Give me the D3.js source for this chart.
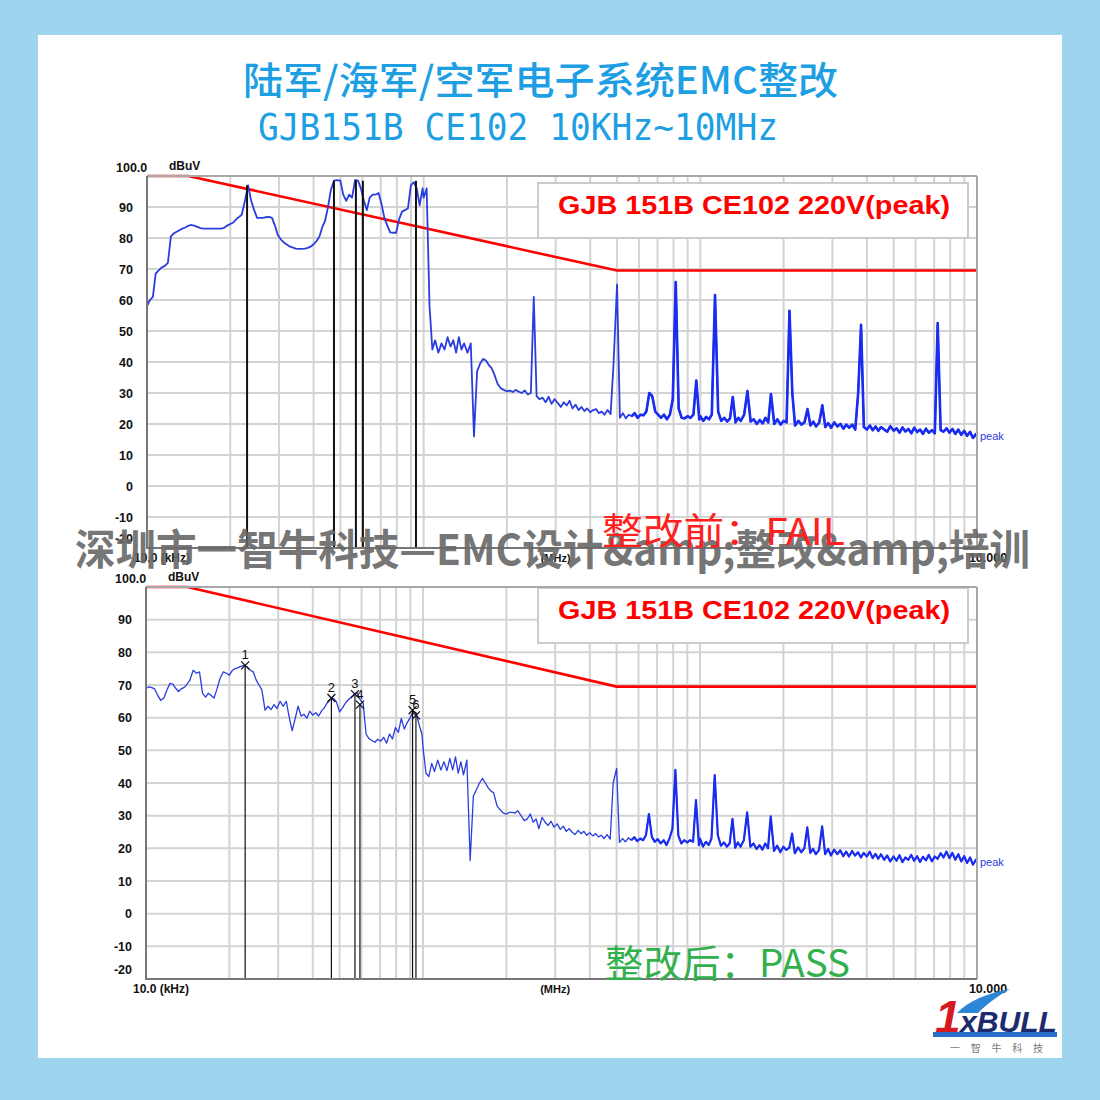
<!DOCTYPE html>
<html><head><meta charset="utf-8">
<script src="https://cdn.jsdelivr.net/npm/d3@7"></script>
<style>body{margin:0;background:#fff}svg{display:block}</style>
</head><body><svg id="c" width="1100" height="1100"></svg>
<script>
// ---------------- DATA ----------------
const freqKHz = [
 10,10.25,10.5,10.75,11,11.3,11.6,11.9,12.2,12.5, 12.8,13.1,13.4,13.7,14,14.4,14.8,15.2,15.6,16,
 16.4,16.8,17.2,17.6,18,18.5,19,19.5,20,20.5, 21,21.5,22,22.6,23.2,23.8,24.4,25,25.6,26.2,
 26.9,27.6,28.3,29,29.7,30.5,31.3,32.1,32.9,33.7, 34.5,35.4,36.3,37.2,38.1,39,40,41,42,43,
 44,45,46.2,47.4,48.6,50,51.2,52.5,53.8,55.1, 56.5,57.9,59.3,60.8,62.3,63.8,65.4,67,68.7,70.4,
 72.1,73.9,75.7,77.6,79.5,81.5,83.5,85.6,87.7,89.9, 92.1,94.4,96.7,99.1,
 100,102.5,105,107.5,110,113,116,119,122,125, 128,131,134,137,140,144,148,152,156,160,
 164,168,172,176,180,185,190,195,200,205, 210,215,220,226,232,238,244,250,256,262,
 269,276,283,290,297,305,313,321,329,337, 345,354,363,372,381,390,400,410,420,430,
 440,450,462,474,486,500,512,525,538,551, 565,579,593,608,623,638,654,670,687,704,
 721,739,757,776,795,815,835,856,877,899, 921,944,967,991,
 1000,1025,1050,1075,1100,1130,1160,1190,1220,1250, 1280,1310,1340,1370,1400,1440,1480,1520,1560,1600,
 1640,1680,1720,1760,1800,1850,1900,1950,2000,2050, 2100,2150,2200,2260,2320,2380,2440,2500,2560,2620,
 2690,2760,2830,2900,2970,3050,3130,3210,3290,3370, 3450,3540,3630,3720,3810,3900,4000,4100,4200,4300,
 4400,4500,4620,4740,4860,5000,5120,5250,5380,5510, 5650,5790,5930,6080,6230,6380,6540,6700,6870,7040,
 7210,7390,7570,7760,7950,8150,8350,8560,8770,8990, 9210,9440,9670,9910,
 10000
];
// before rectification (FAIL), dBuV
const levelBefore = [
 58,60,61,68.5,69.5,70.5,71,72,80.5,81.5, 82,82.5,83,83.3,83.8,84.2,84,83.6,83.2,83,
 83,83,83,83,83,83,83.3,84,84.5,85, 86,86.8,87.5,92,97,92,89,86.5,86.5,86.5,
 86.7,86.8,86.5,84,81,79.5,78.5,77.8,77.2,76.9, 76.6,76.5,76.5,76.6,76.8,77.2,78,79,80.5,83.5,
 85.5,89.5,95.5,98.5,98.7,98.5,94,92,94,93, 98.7,98.5,96,92,89,93,94,94,94.5,91,
 86.5,84,81.8,81.7,81.7,86,88.5,89,89.5,97, 98,96,90.5,96,
 93,96,58,44,47,43,46,44,48,45, 47,43,48,44,46,43,46,16,37,39.5,
 41,40.5,39,38,36,33,31.5,31,30.5,30.8, 30.3,31,30.5,30,30.8,29.5,30,61,29,28,
 28.5,27,28.8,26.5,28,26.8,25.5,27,26,27.5, 25,26.2,24.5,25.5,24.2,25,23.8,24.5,24.8,23.5,
 24,23,24.5,23.2,40,65,22,23.5,21.8,23, 22.5,23.5,22,23,22.8,24,30,29,24,23,
 22,23,21.5,23,28,65.8,25,22,21.8,22.5, 22,23,34,21.5,
 22.5,21,22.3,21.5,23,61.6,24,21,22,20.8, 21.8,28.7,20.5,22,21,23,30.6,20.8,21.5,20,
 21.3,20.2,22,20.5,29.7,20,21.5,19.8,21,20.5, 56.5,30,19.5,21,19.8,20.6,24.8,19.5,20.8,19.2,
 20.5,26,19,20.3,18.8,20.5,19.2,20,18.5,19.8, 18.8,19.8,18.2,30,52,19,18.2,19.5,18,19.2,
 17.8,19,18.2,17.5,19.3,17.8,18.6,17.2,18.9,17.6, 18.4,17,18.8,17.4,18.2,16.8,18.5,17.2,18,17,
 52.6,18,17.5,18.6,17.2,18.4,16.8,18.2,16.5,17.8, 16.2,17.5,15.5,16.8,
 16
];
// after rectification (PASS), dBuV
const levelAfter = [
 69,69.4,69.2,68.8,67,65.3,66,68.5,70.5,70.3, 69,68,68.8,69.2,70,71.5,74.5,73.6,74,67.5,
 66.3,67.5,66.8,66,68.5,72,74,73.6,73,74.5, 75,75.3,75.7,76,75.5,74.5,74,71.5,70,68.5,
 62.3,63.5,62.5,64,62.8,65,63.5,65,60,56, 59.5,63.5,60.5,61,59.8,62,60.8,61.5,60.5,62,
 63,64.4,65.5,66,65,61.8,63,64.5,65.5,66.3, 67.3,67.6,65.5,64.5,55,53.6,53,52.5,53.4,52.8,
 54,52.2,55,53.5,57,55.5,59.8,56.5,58.5,60, 62,61.5,58,55,
 51,43,42,46,43.5,47,44,46.5,43.8,47.5, 44,48,43,46.5,42.5,47,16.3,36,38,40,
 41.4,40,38.5,37.5,37,33,31.8,30.8,30.5,31, 31,30.8,31.5,30,28.5,29,30.5,28,29,26,
 29.5,28,27,28.3,26.5,27.5,25.8,26.8,25.2,26, 25,24.2,25.5,24.5,25.2,24,24.8,23.8,24.5,23.5,
 24,23,24.2,22.8,40,44.5,21.8,23,22,23.2, 22.5,23.4,22.2,23,22.5,24,30.5,23.5,22,22.8,
 21.5,22.5,21,23,26,44,24,21.5,22.5,21.8, 22.5,22,34.8,21,
 23,20.5,22,21,23,42.4,24,20.8,21.8,20.5, 21.5,29,20.2,21.8,20.5,22.5,31,20.5,21.5,19.8,
 21,19.6,21.5,20,29.8,19.2,20.8,18.8,20.5,19.5, 20.2,24.5,18.5,20.3,18.8,20,26.4,18.6,19.8,18.2,
 19.5,26.7,18.2,19.8,17.8,19.6,18.2,19.4,17.6,19, 17.5,19.2,17.8,18.8,17.2,18.6,17.5,19,17,18.3,
 16.8,18.2,16.5,17.8,16,17.5,16.2,17.9,15.8,17.2, 16.5,18,16.2,17.6,15.8,17.4,16.3,18,16,17.5,
 16.8,18.5,17.2,19,17,18.6,16.5,18.2,16,17.6, 15.5,17.2,15,16.5,
 15.8
];
const limitFreq = [10, 14.1, 500, 10000];
const limitLevel = [100, 100, 69.5, 69.5];
const yTicks = [90, 80, 70, 60, 50, 40, 30, 20, 10, 0, -10, -20];
const gridFreqs = [20,30,40,50,60,70,80,90,100,200,300,400,500,600,700,800,900,1000,2000,3000,4000,5000,6000,7000,8000,9000];
const markerBeforeFreq = [23.0, 47.4, 56.9, 60.3, 93.8];
const markerBeforeLevel = [97, 98.5, 98.7, 98.5, 98.5];
const markerAfterFreq = [22.8, 46.7, 56.8, 59.2, 91.7, 94.3];
const markerAfterLevel = [76, 66, 67.2, 64, 62.3, 60.7];
const markerLabels = ["1", "2", "3", "4", "5", "6"];
const xLabels = ["10.0 (kHz)", "(MHz)", "10.000"];
const legendText = "GJB 151B CE102 220V(peak)";
const noiseBandStartKHz = [430, 560];

// ---------------- DRAW ----------------
const svg = d3.select("#c");
const SANS = "'Liberation Sans', Arial, sans-serif";
const CJK = "'Noto Sans CJK SC', sans-serif";
svg.append("rect").attr("width", 1100).attr("height", 1100).attr("fill", "#9dd4ee");
svg.append("rect").attr("x", 38).attr("y", 35).attr("width", 1024).attr("height", 1023).attr("fill", "#ffffff");

// titles
svg.append("text").attr("x", 243).attr("y", 94).attr("font-family", CJK).attr("font-size", 38).attr("font-weight", 500)
  .attr("fill", "#1e9fe3").attr("textLength", 595).attr("lengthAdjust", "spacingAndGlyphs")
  .text("陆军/海军/空军电子系统EMC整改");
svg.append("text").attr("x", 258).attr("y", 140).attr("font-family", "'DejaVu Sans Mono', monospace").attr("font-size", 37)
  .attr("fill", "#1e9fe3").attr("textLength", 520).attr("lengthAdjust", "spacingAndGlyphs")
  .text("GJB151B CE102 10KHz~10MHz");

function chart(cfg) {
  const x = d3.scaleLog().domain([10, 10000]).range([cfg.left, 977]);
  const y = d3.scaleLinear().domain([-20, 100]).range([cfg.bottom, cfg.top]);
  const g = svg.append("g");
  g.selectAll(".vg").data(gridFreqs).join("line").attr("class", "vg")
    .attr("x1", d => x(d)).attr("x2", d => x(d)).attr("y1", y(100)).attr("y2", y(-20))
    .attr("stroke", "#d3d3d3").attr("stroke-width", 2);
  g.selectAll(".hg").data(yTicks.filter(v => v > -20)).join("line").attr("class", "hg")
    .attr("x1", cfg.left).attr("x2", 977).attr("y1", d => y(d)).attr("y2", d => y(d))
    .attr("stroke", "#d3d3d3").attr("stroke-width", 2);
  // legend box
  g.append("rect").attr("x", 538).attr("y", cfg.legendY).attr("width", 430).attr("height", 55)
    .attr("fill", "#fff").attr("stroke", "#cccccc").attr("stroke-width", 2);
  g.append("text").attr("x", 558).attr("y", cfg.legendY + 31).attr("font-family", SANS).attr("font-weight", "bold")
    .attr("font-size", 25).attr("fill", "#ff0000").attr("textLength", 392).attr("lengthAdjust", "spacingAndGlyphs")
    .text(legendText);
  const line = d3.line().x(d => x(d[0])).y(d => y(d[1]));
  // limit
  g.append("path").datum(d3.zip(limitFreq, limitLevel)).attr("d", line)
    .attr("fill", "none").attr("stroke", "#ff0000").attr("stroke-width", 2.6);
  // trace
  const pts = d3.zip(freqKHz, cfg.levels);
  g.append("path").datum(pts).attr("d", line)
    .attr("fill", "none").attr("stroke", "#2a3ddf").attr("stroke-width", cfg.traceW).attr("stroke-linejoin", "round");
  // denser look of the noisy band (same data, heavier stroke)
  g.append("path").datum(pts.filter(p => (p[0] >= noiseBandStartKHz[0] && p[0] <= 150) || p[0] >= noiseBandStartKHz[1])).attr("d", line)
    .attr("fill", "none").attr("stroke", "#1a2cf0").attr("stroke-width", cfg.noiseW).attr("stroke-linejoin", "round");
  // marker lines
  const mk = d3.zip(cfg.mFreq, cfg.mLevel);
  g.selectAll(".ml").data(mk).join("line").attr("class", "ml")
    .attr("x1", d => x(d[0])).attr("x2", d => x(d[0])).attr("y1", d => y(d[1])).attr("y2", y(-20))
    .attr("stroke", "#111").attr("stroke-width", cfg.markW);
  if (cfg.numbered) {
    g.selectAll(".mx").data(mk).join("path").attr("class", "mx")
      .attr("d", d => { const cx = x(d[0]), cy = y(d[1]); return `M${cx-4},${cy-4}L${cx+4},${cy+4}M${cx-4},${cy+4}L${cx+4},${cy-4}`; })
      .attr("stroke", "#111").attr("stroke-width", 1.3).attr("fill", "none");
    g.selectAll(".mt").data(mk).join("text").attr("class", "mt")
      .attr("x", d => x(d[0])).attr("y", d => y(d[1]) - 6).attr("text-anchor", "middle")
      .attr("font-family", SANS).attr("font-size", 13).attr("fill", "#111")
      .text((d, i) => markerLabels[i]);
  }
  // frame
  g.append("line").attr("x1", cfg.left).attr("x2", 977).attr("y1", y(100)).attr("y2", y(100)).attr("stroke", "#a8a8a8").attr("stroke-width", 2);
  g.append("line").attr("x1", 977).attr("x2", 977).attr("y1", y(100)).attr("y2", y(-20)).attr("stroke", "#a8a8a8").attr("stroke-width", 2);
  g.append("line").attr("x1", cfg.left).attr("x2", cfg.left).attr("y1", y(100)).attr("y2", y(-20) + 1).attr("stroke", "#777").attr("stroke-width", 2);
  g.append("line").attr("x1", cfg.left).attr("x2", 977).attr("y1", y(-20)).attr("y2", y(-20)).attr("stroke", "#777").attr("stroke-width", 2);
  // y axis labels
  const ax = g.append("g").attr("transform", `translate(${cfg.left},0)`)
    .call(d3.axisLeft(y).tickValues(yTicks).tickSize(0).tickPadding(14).tickFormat(d => String(d)));
  ax.select(".domain").remove();
  ax.selectAll("text").attr("font-family", SANS).attr("font-weight", "bold").attr("font-size", 12.5).attr("fill", "#111");
  ax.selectAll(".tick").filter(d => d === -20).select("text").attr("dy", "-0.45em");
  g.append("text").attr("x", cfg.left - 31).attr("y", y(100) - 4).attr("font-family", SANS).attr("font-weight", "bold")
    .attr("font-size", 12.5).attr("fill", "#111").text("100.0");
  g.append("text").attr("x", cfg.left + 22).attr("y", y(100) - 6).attr("font-family", SANS).attr("font-weight", "bold")
    .attr("font-size", 12).attr("fill", "#111").text("dBuV");
  // x labels
  const xb = y(-20) + 14;
  g.append("text").attr("x", cfg.left - 13).attr("y", xb).attr("font-family", SANS).attr("font-weight", "bold")
    .attr("font-size", 12).attr("fill", "#111").text(xLabels[0]);
  g.append("text").attr("x", x(300)).attr("y", xb).attr("text-anchor", "middle").attr("font-family", SANS).attr("font-weight", "bold")
    .attr("font-size", 11).attr("fill", "#111").text(xLabels[1]);
  g.append("text").attr("x", x(10000) + 11).attr("y", xb).attr("text-anchor", "middle").attr("font-family", SANS).attr("font-weight", "bold")
    .attr("font-size", 12.5).attr("fill", "#111").text(xLabels[2]);
  // peak label
  g.append("text").attr("x", 980).attr("y", y(cfg.levels[cfg.levels.length - 1]) + 4).attr("font-family", SANS)
    .attr("font-size", 11).attr("fill", "#2a3ddf").text("peak");
}

chart({ top: 176, bottom: 548, left: 147, legendY: 183, levels: levelBefore, traceW: 1.8, noiseW: 2.6,
        mFreq: markerBeforeFreq, mLevel: markerBeforeLevel, markW: 2, numbered: false });
chart({ top: 587, bottom: 979, left: 146, legendY: 588, levels: levelAfter, traceW: 1.3, noiseW: 2.2,
        mFreq: markerAfterFreq, mLevel: markerAfterLevel, markW: 1.2, numbered: true });

// watermark and verdicts
svg.append("text").attr("x", 75).attr("y", 565).attr("font-family", CJK).attr("font-weight", "bold").attr("font-size", 42)
  .attr("fill", "#686868").attr("fill-opacity", 0.92).attr("textLength", 955).attr("lengthAdjust", "spacingAndGlyphs")
  .text("深圳市一智牛科技—EMC设计&amp;整改&amp;培训");
svg.append("text").attr("x", 602).attr("y", 545).attr("font-family", CJK).attr("font-size", 37)
  .attr("fill", "#ff2020").attr("textLength", 243).attr("lengthAdjust", "spacingAndGlyphs").text("整改前：FAIL");
svg.append("text").attr("x", 605).attr("y", 977).attr("font-family", CJK).attr("font-size", 38)
  .attr("fill", "#31b04c").attr("textLength", 245).attr("lengthAdjust", "spacingAndGlyphs").text("整改后：PASS");

// logo
const lg = svg.append("g");
lg.append("path").attr("d", "M957,1013 C968,1001 988,993 1010,989 C996,997 986,1005 978,1013 Z").attr("fill", "#2c86d8");
lg.append("text").attr("x", 935).attr("y", 1033).attr("font-family", SANS).attr("font-style", "italic").attr("font-weight", "bold")
  .attr("font-size", 46).attr("fill", "#d71920").text("1");
lg.append("text").attr("x", 960).attr("y", 1032).attr("font-family", SANS).attr("font-style", "italic").attr("font-weight", "bold")
  .attr("font-size", 30).attr("fill", "#1d2a6e").attr("textLength", 97).attr("lengthAdjust", "spacingAndGlyphs").text("xBULL");
lg.append("rect").attr("x", 933).attr("y", 1032).attr("width", 124).attr("height", 5).attr("fill", "#2a6fc9");
lg.append("text").attr("x", 950).attr("y", 1052).attr("font-family", CJK).attr("font-size", 10).attr("fill", "#777")
  .attr("textLength", 93).text("一 智 牛 科 技");
</script>
</body></html>
